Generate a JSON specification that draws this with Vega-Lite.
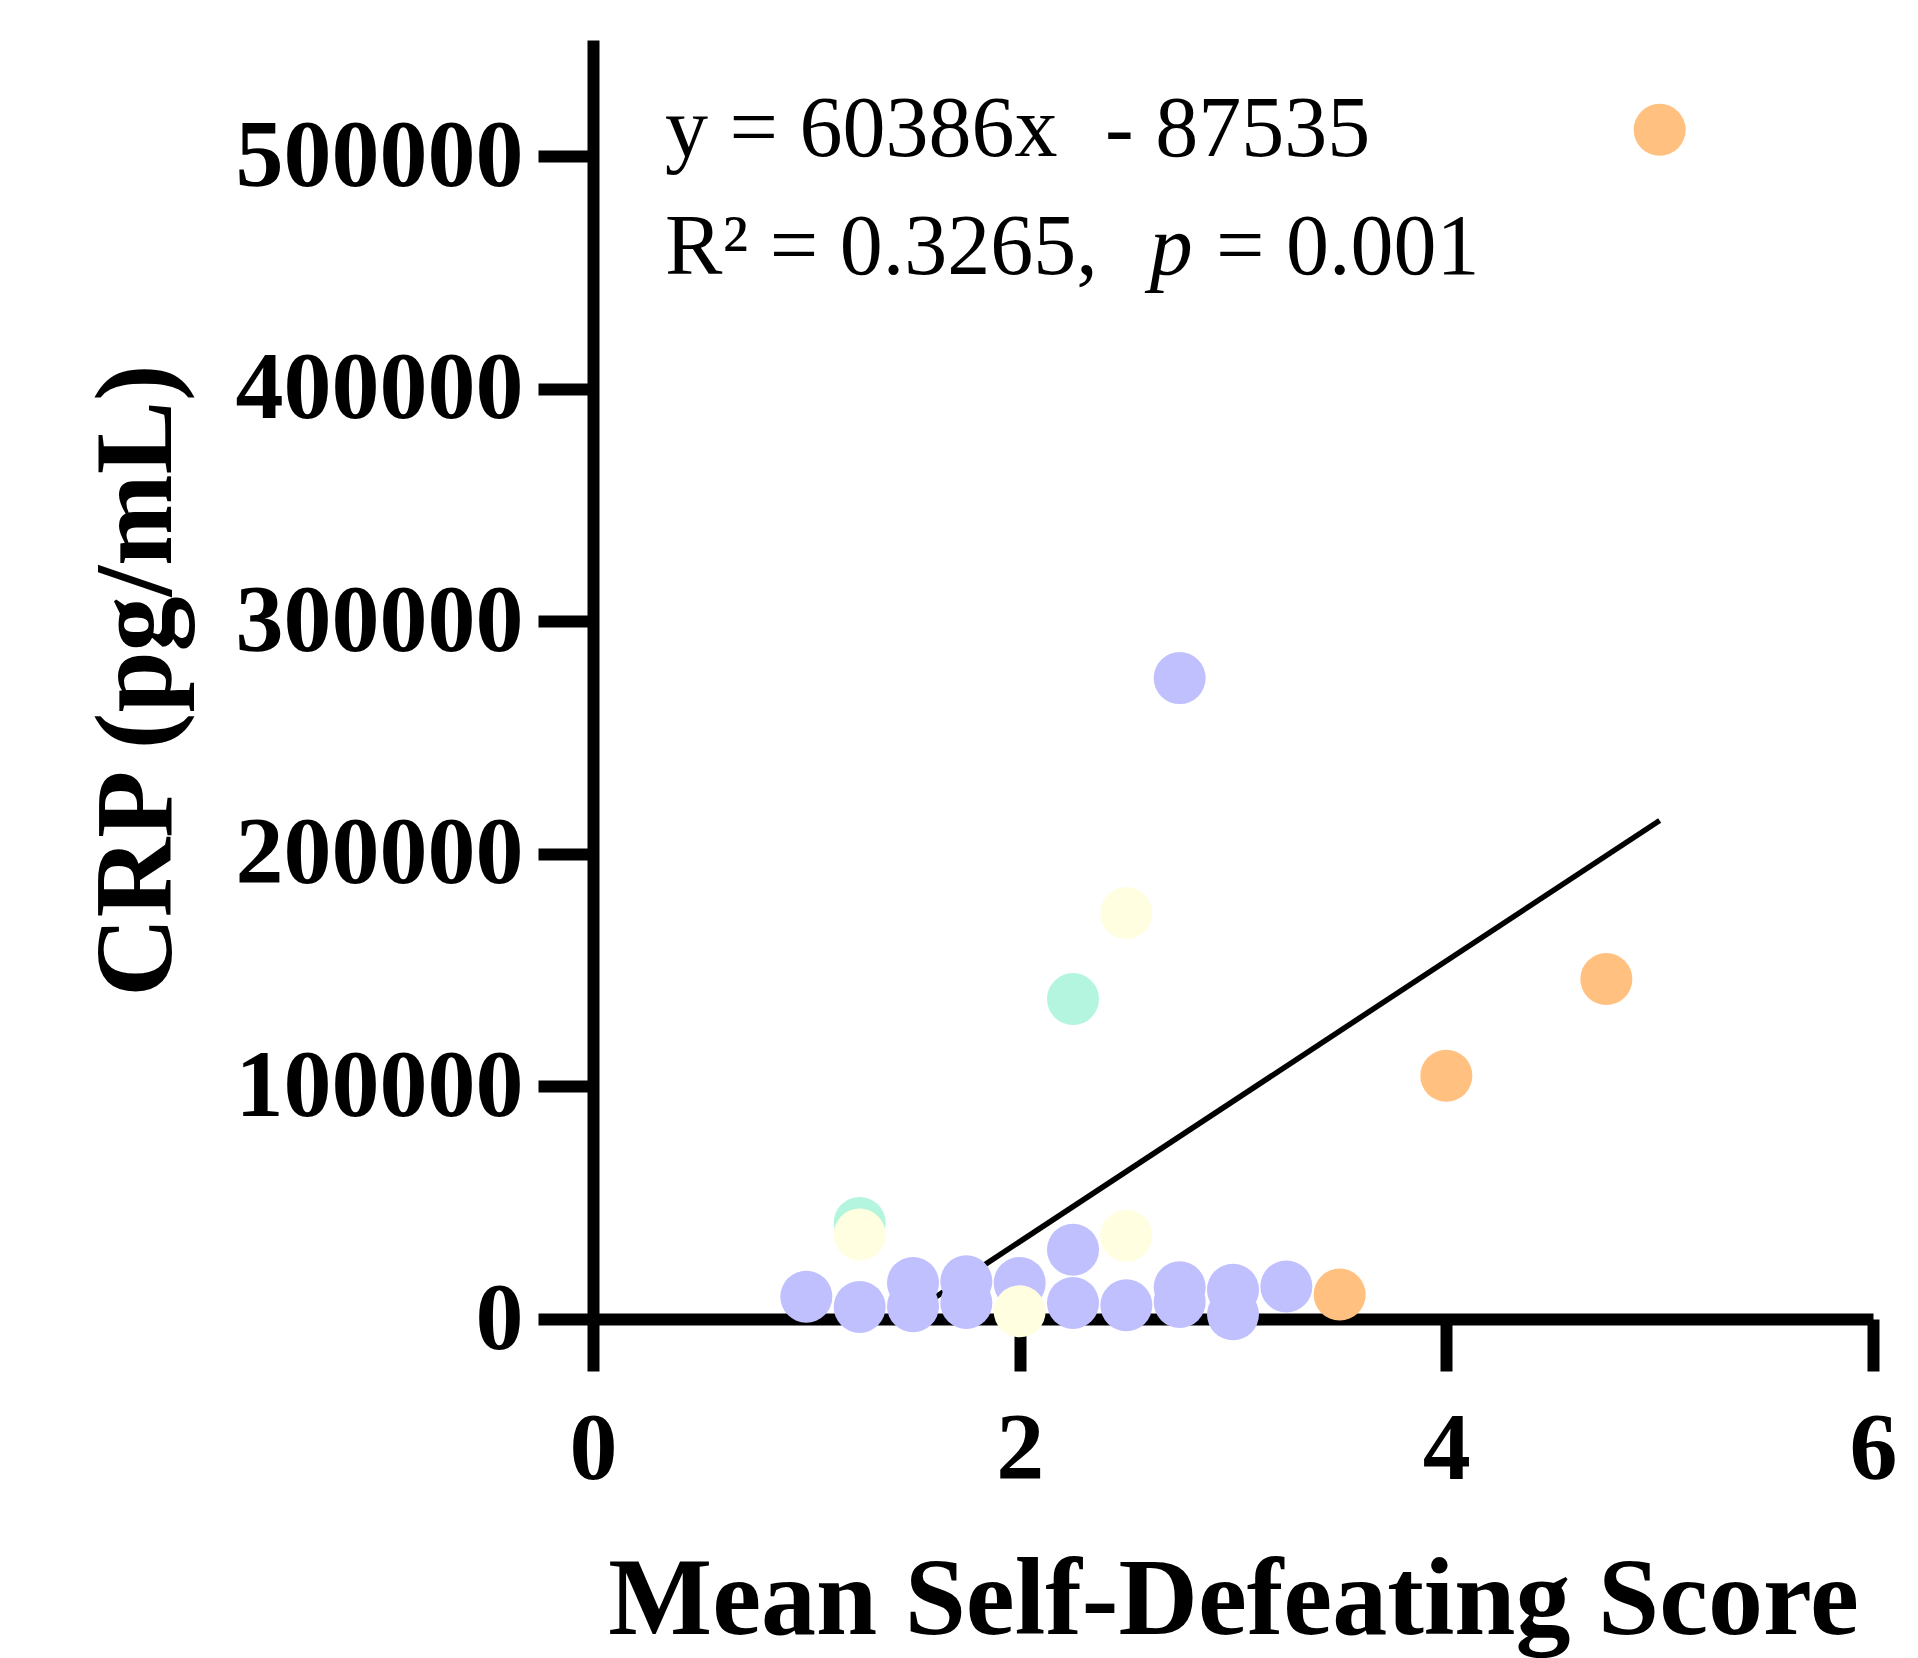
{
  "$schema": "https://vega.github.io/schema/vega-lite/v6.json",
  "width": 1280,
  "height": 1279,
  "autosize": {"type": "pad"},
  "padding": {"left": 82, "top": 40, "right": 5, "bottom": 5},
  "background": "white",
  "config": {"view": {"stroke": null}, "font": "Liberation Serif"},
  "datasets": {
    "points": [
      {"x": 1.0, "y": 9600, "group": "purple"},
      {"x": 1.25, "y": 5200, "group": "purple"},
      {"x": 1.5, "y": 15500, "group": "purple"},
      {"x": 1.5, "y": 5500, "group": "purple"},
      {"x": 1.75, "y": 16200, "group": "purple"},
      {"x": 1.75, "y": 6900, "group": "purple"},
      {"x": 2.0, "y": 15500, "group": "purple"},
      {"x": 2.25, "y": 29800, "group": "purple"},
      {"x": 2.25, "y": 6900, "group": "purple"},
      {"x": 2.5, "y": 5900, "group": "purple"},
      {"x": 2.75, "y": 275600, "group": "purple"},
      {"x": 2.75, "y": 13600, "group": "purple"},
      {"x": 2.75, "y": 7300, "group": "purple"},
      {"x": 3.0, "y": 12600, "group": "purple"},
      {"x": 3.0, "y": 2000, "group": "purple"},
      {"x": 3.25, "y": 14000, "group": "purple"},
      {"x": 1.25, "y": 41300, "group": "green"},
      {"x": 2.25, "y": 137600, "group": "green"},
      {"x": 1.25, "y": 36300, "group": "yellow"},
      {"x": 2.0, "y": 3300, "group": "yellow"},
      {"x": 2.5, "y": 35800, "group": "yellow"},
      {"x": 2.5, "y": 174600, "group": "yellow"},
      {"x": 3.5, "y": 10500, "group": "orange"},
      {"x": 4.0, "y": 104600, "group": "orange"},
      {"x": 4.75, "y": 146200, "group": "orange"},
      {"x": 5.0, "y": 511400, "group": "orange"}
    ],
    "fit": [
      {"x": 1.4496, "y": 0},
      {"x": 5.0, "y": 214395}
    ],
    "eq": [
      {"x": 0.338, "y": 500200, "text": "y = 60386x"},
      {"x": 2.40, "y": 500200, "text": "- 87535"},
      {"x": 0.338, "y": 449500, "text": "R² = 0.3265,"},
      {"x": 2.92, "y": 449500, "text": "= 0.001"}
    ],
    "eqItalic": [
      {"x": 2.61, "y": 449500, "text": "p"}
    ]
  },
  "encoding": {
    "x": {
      "field": "x",
      "type": "quantitative",
      "scale": {"domain": [0, 6], "nice": false, "zero": false},
      "axis": {
        "values": [0, 2, 4, 6],
        "title": "Mean Self-Defeating Score",
        "titleFont": "Liberation Serif",
        "titleFontSize": 110,
        "titleFontWeight": "bold",
        "titleColor": "black",
        "titlePadding": 49,
        "labelFont": "Liberation Serif",
        "labelFontSize": 96,
        "labelFontWeight": "bold",
        "labelColor": "black",
        "labelPadding": 31,
        "labelFlush": false,
        "labelOverlap": false,
        "labelLimit": 1000,
        "tickSize": 52,
        "tickWidth": 12,
        "tickColor": "black",
        "domainWidth": 12,
        "domainColor": "black",
        "grid": false
      }
    },
    "y": {
      "field": "y",
      "type": "quantitative",
      "scale": {"domain": [0, 550000], "nice": false},
      "axis": {
        "values": [0, 100000, 200000, 300000, 400000, 500000],
        "format": "d",
        "title": "CRP (pg/mL)",
        "titleFont": "Liberation Serif",
        "titleFontSize": 110,
        "titleFontWeight": "bold",
        "titleColor": "black",
        "titleX": -400,
        "titleY": 640,
        "titleAngle": 270,
        "titleAlign": "center",
        "titleBaseline": "bottom",
        "titleLimit": 2000,
        "labelFont": "Liberation Serif",
        "labelFontSize": 96,
        "labelFontWeight": "bold",
        "labelColor": "black",
        "labelPadding": 15,
        "labelFlush": false,
        "labelOverlap": false,
        "labelLimit": 1000,
        "tickSize": 55,
        "tickWidth": 12,
        "tickColor": "black",
        "domainWidth": 12,
        "domainColor": "black",
        "grid": false
      }
    }
  },
  "layer": [
    {
      "data": {"name": "fit"},
      "mark": {"type": "line", "color": "black", "strokeWidth": 5.5}
    },
    {
      "data": {"name": "points"},
      "mark": {"type": "point", "filled": true, "opacity": 1, "size": 2704, "shape": "circle"},
      "encoding": {
        "color": {
          "field": "group",
          "type": "nominal",
          "scale": {"domain": ["purple", "green", "yellow", "orange"], "range": ["#C0C0FF", "#B3F5DE", "#FFFEE0", "#FFC080"]},
          "legend": null
        }
      }
    },
    {
      "data": {"name": "eq"},
      "mark": {"type": "text", "align": "left", "baseline": "alphabetic", "font": "Liberation Serif", "fontSize": 86, "color": "black"},
      "encoding": {"text": {"field": "text", "type": "nominal"}}
    },
    {
      "data": {"name": "eqItalic"},
      "mark": {"type": "text", "align": "left", "baseline": "alphabetic", "font": "Liberation Serif", "fontSize": 86, "fontStyle": "italic", "color": "black"},
      "encoding": {"text": {"field": "text", "type": "nominal"}}
    }
  ]
}
